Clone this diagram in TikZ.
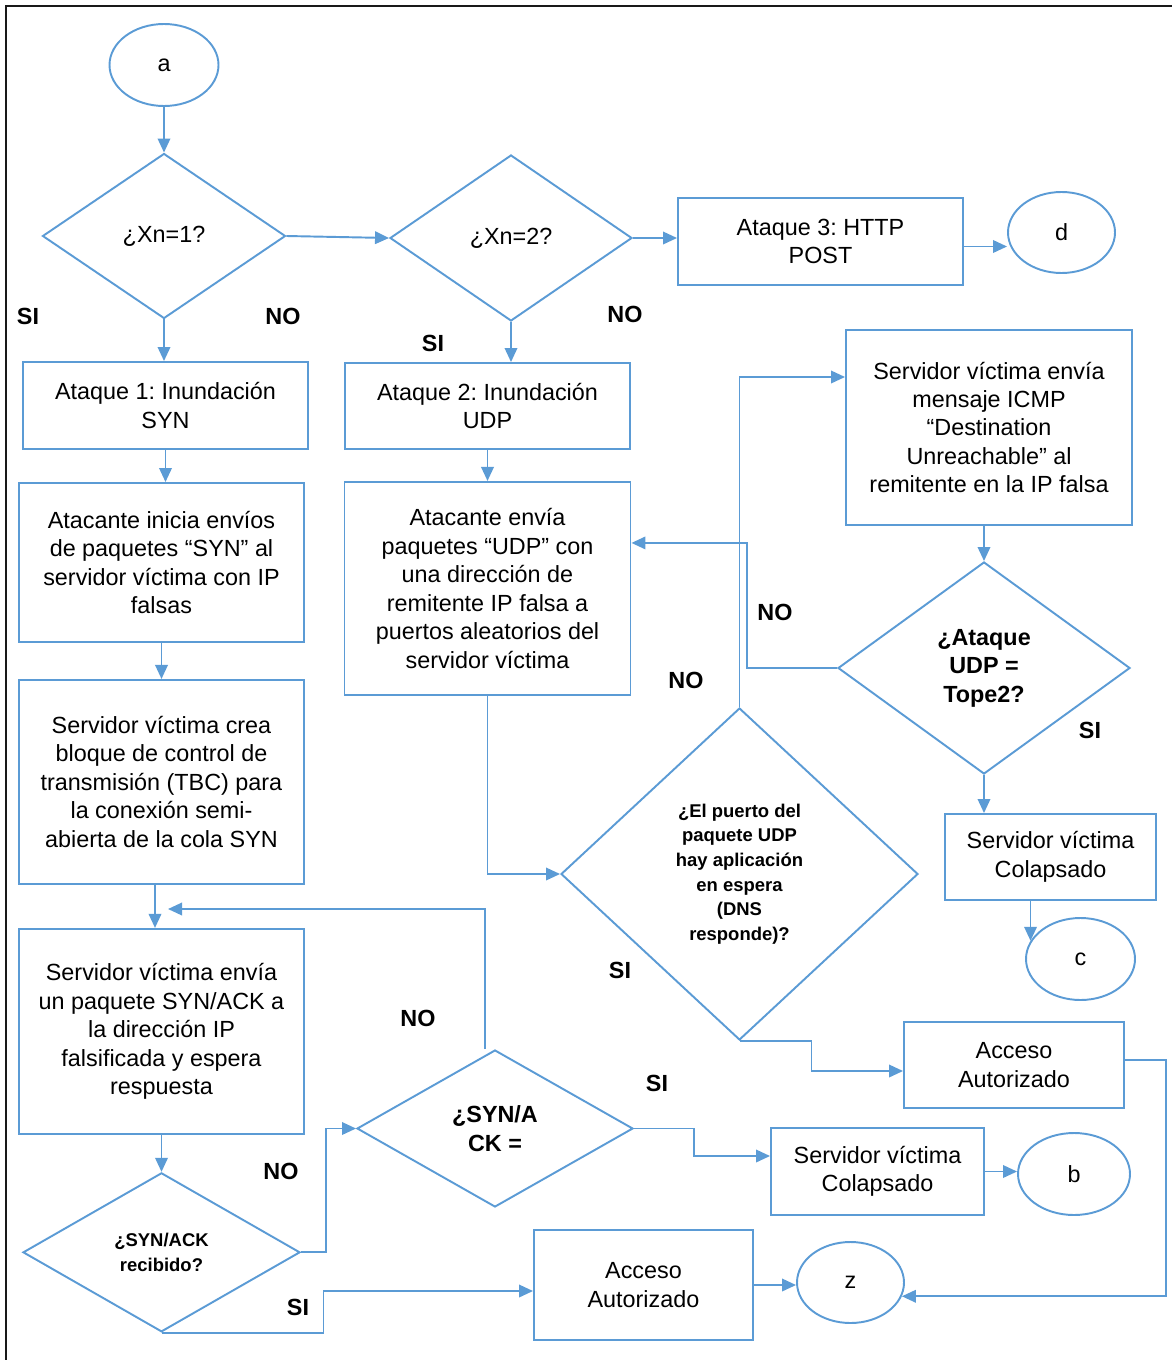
\documentclass[tikz,border=0pt]{standalone}
\usepackage{fontspec}
\setmainfont{Liberation Sans}
\usepackage{xcolor}
\usetikzlibrary{shapes,arrows.meta,positioning}
\definecolor{flowblue}{RGB}{91,155,213}
\frenchspacing

\begin{document}
\begin{tikzpicture}[
    x=0.2mm, y=-0.2mm,
    font=\fontsize{13.3}{16.2}\selectfont,
    block/.style={rectangle, draw=flowblue, line width=1.1pt, align=center, inner sep=2pt},
    decision/.style={diamond, draw=flowblue, line width=1.1pt, align=center, inner sep=0pt},
    terminal/.style={ellipse, draw=flowblue, line width=1.1pt, inner sep=0pt},
    arrow/.style={->, >={Triangle[length=2.8mm, width=2.5mm]}, draw=flowblue, line width=1.1pt},
    answer/.style={font=\fontsize{13.3}{16.2}\selectfont\bfseries},
    small/.style={font=\fontsize{10.5}{14}\selectfont\bfseries}
]
    \useasboundingbox (0,0) rectangle (1172,1360);
    % Frame
    \draw[line width=1.4pt, black!90] (6,1360) -- (6,6) -- (1172,6);

    % Nodes
    \node[terminal, minimum width=21.8mm, minimum height=16.4mm] (a) at (164,65) {a};
    \node[decision, minimum width=48.6mm, minimum height=33mm] (xn1) at (164,236) {¿Xn=1?};
    \node[decision, minimum width=48.4mm, minimum height=33.2mm] (xn2) at (511,238) {¿Xn=2?};
    \node[block, minimum width=57mm, minimum height=17.4mm] (ataque3) at (820.5,241.5) {Ataque 3: HTTP\\POST};
    \node[terminal, minimum width=21.4mm, minimum height=16.2mm] (d) at (1061.5,232.5) {d};

    \node[block, minimum width=57mm, minimum height=17.4mm] (ataque1) at (165.5,405.5) {Ataque 1: Inundación\\SYN};
    \node[block, minimum width=57mm, minimum height=31.8mm] (envioSyn) at (161.5,562.5) {Atacante inicia envíos\\de paquetes “SYN” al\\servidor víctima con IP\\falsas};
    \node[block, minimum width=57mm, minimum height=40.8mm, below=7.2mm of envioSyn] (crearTbc) {Servidor víctima crea\\bloque de control de\\transmisión (TBC) para\\la conexión semi-\\abierta de la cola SYN};
    \node[block, minimum width=57mm, minimum height=41mm, below=8.6mm of crearTbc] (synAck) {Servidor víctima envía\\un paquete SYN/ACK a\\la dirección IP\\falsificada y espera\\respuesta};
    \node[decision, small, minimum width=55.4mm, minimum height=31.8mm, below=7.4mm of synAck] (recibido) {¿SYN/ACK\\recibido?};
    \node[decision, answer, minimum width=55.2mm, minimum height=31.4mm] (synAckTope) at (495,1128.5) {¿SYN/A\\CK =};
    \node[block, minimum width=42.6mm, minimum height=17.4mm] (colapsoSyn) at (877.5,1171.5) {Servidor víctima\\Colapsado};
    \node[terminal, minimum width=22.4mm, minimum height=16.4mm] (b) at (1074,1174) {b};
    \node[block, minimum width=43.8mm, minimum height=22mm] (accesoSyn) at (643.5,1285) {Acceso\\Autorizado};
    \node[terminal, minimum width=21.4mm, minimum height=16.2mm] (z) at (850.5,1282.5) {z};

    \node[block, minimum width=57mm, minimum height=17.2mm] (ataque2) at (487.5,406) {Ataque 2: Inundación\\UDP};
    \node[block, minimum width=57.2mm, minimum height=42.6mm, below=6.2mm of ataque2] (envioUdp) {Atacante envía\\paquetes “UDP” con\\una dirección de\\remitente IP falsa a\\puertos aleatorios del\\servidor víctima};
    \node[decision, small, minimum width=71.4mm, minimum height=66.4mm] (puertoUdp) at (739.5,874) {¿El puerto del\\paquete UDP\\hay aplicación\\en espera\\(DNS\\responde)?};
    \node[block, minimum width=57.2mm, minimum height=39mm] (icmp) at (989,427.5) {Servidor víctima envía\\mensaje ICMP\\“Destination\\Unreachable” al\\remitente en la IP falsa};
    \node[decision, answer, minimum width=58.4mm, minimum height=42.4mm] (topeUdp) at (984,668) {¿Ataque\\UDP =\\Tope2?};
    \node[block, minimum width=42.2mm, minimum height=17.2mm] (colapsoUdp) at (1050.5,857) {Servidor víctima\\Colapsado};
    \node[terminal, minimum width=21.8mm, minimum height=16.4mm] (c) at (1080.5,959) {c};
    \node[block, minimum width=44mm, minimum height=17.2mm] (accesoUdp) at (1014,1065) {Acceso\\Autorizado};
    \coordinate (retSyn) at (168,909);

    % Labels
    \node[answer] (siXn1) at (28,316) {SI};
    \node[answer] (noXn1) at (283,316) {NO};
    \node[answer] (siXn2) at (433,343) {SI};
    \node[answer] (noXn2) at (625,314) {NO};
    \node[answer] (noTope) at (775,612) {NO};
    \node[answer] (siTope) at (1090,730) {SI};
    \node[answer] (noPuerto) at (686,680) {NO};
    \node[answer] (siPuerto) at (620,970) {SI};
    \node[answer] (noSynAck) at (418,1018) {NO};
    \node[answer] (siSynAck) at (657,1083) {SI};
    \node[answer] (noRecibido) at (281,1171) {NO};
    \node[answer] (siRecibido) at (298,1307) {SI};

    % Arrows
    \draw[arrow] (a) -- (xn1);
    \draw[arrow] (xn1.east) -- (xn2.west);
    \draw[arrow] (xn2.east) -- (xn2.east -| ataque3.west);
    \draw[arrow] ([yshift=-1mm]ataque3.east) -- ([yshift=-1mm]ataque3.east -| d.west);
    \draw[arrow] (xn1.south) -- (xn1.south |- ataque1.north);
    \draw[arrow] (xn2.south) -- (xn2.south |- ataque2.north);
    \draw[arrow] (ataque1.south) -- (ataque1.south |- envioSyn.north);
    \draw[arrow] (envioSyn) -- (crearTbc);
    \draw[arrow] ([xshift=-1.3mm]crearTbc.south) -- ([xshift=-1.3mm]synAck.north);
    \draw[arrow] (synAck) -- (recibido);
    \draw[arrow] (recibido.east) -- ++(25,0) |- (synAckTope.west);
    \draw[arrow] (recibido.south) -- ++(162,0) |- ([yshift=-1.2mm]accesoSyn.west);
    \draw[arrow] ([xshift=-2mm]synAckTope.north) |- (retSyn);
    \draw[arrow] (synAckTope.east) -- ++(60,0) |- ([yshift=3.1mm]colapsoSyn.west);
    \draw[arrow] (colapsoSyn.east) -- (colapsoSyn.east -| b.west);
    \draw[arrow] (accesoSyn.east) -- (accesoSyn.east -| z.west);
    \draw[arrow] (ataque2.south) -- (ataque2.south |- envioUdp.north);
    \draw[arrow] (envioUdp.south) |- (puertoUdp.west);
    \draw[arrow] (puertoUdp.north) |- ([yshift=10.1mm]icmp.west);
    \draw[arrow] (topeUdp.north |- icmp.south) -- (topeUdp.north);
    \draw[arrow] (topeUdp.west) -- ++(-90,0) |- ([yshift=9.1mm]envioUdp.east);
    \draw[arrow] (topeUdp.south) -- (topeUdp.south |- colapsoUdp.north);
    \draw[arrow] (colapsoUdp.south -| c.160) -- (c.160);
    \draw[arrow] (puertoUdp.south) -- ++(72,0) |- ([yshift=-1.2mm]accesoUdp.west);
    \draw[arrow] ([yshift=1mm]accesoUdp.east) -- ++(41,0) |- (z.-15);
\end{tikzpicture}
\end{document}
